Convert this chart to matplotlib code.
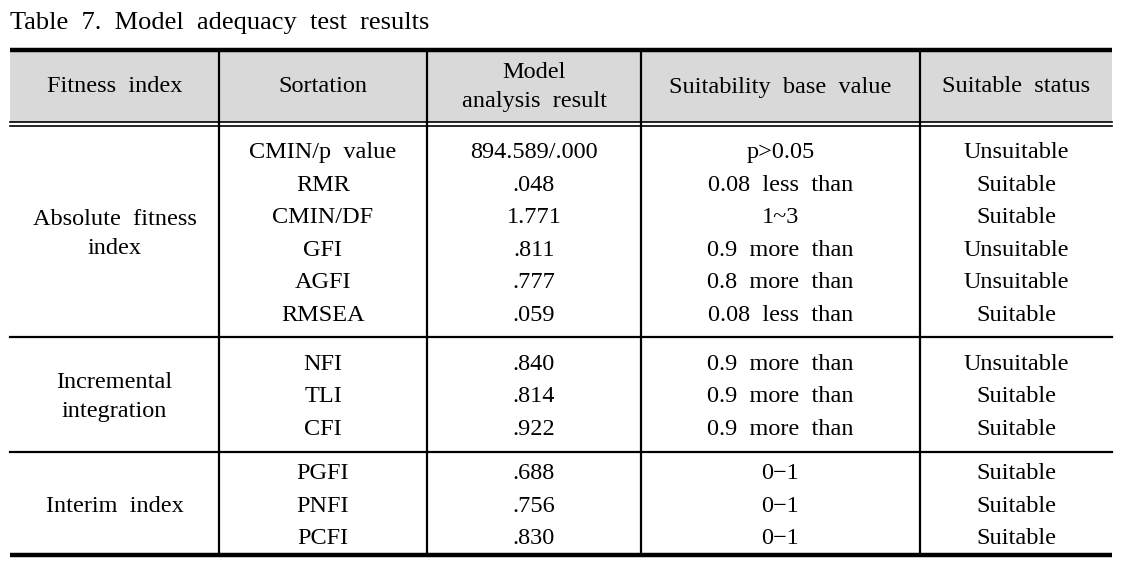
import matplotlib
matplotlib.use("Agg")
import matplotlib.pyplot as plt
from matplotlib.patches import Rectangle

title = "Table 7. Model adequacy test results"
headers = ["Fitness index", "Sortation", "Model\nanalysis result", "Suitability base value", "Suitable status"]
groups = ["Absolute fitness\nindex", "Incremental\nintegration", "Interim index"]
group_sizes = [6, 3, 3]
sortation = ["CMIN/p value", "RMR", "CMIN/DF", "GFI", "AGFI", "RMSEA",
             "NFI", "TLI", "CFI", "PGFI", "PNFI", "PCFI"]
results = ["894.589/.000", ".048", "1.771", ".811", ".777", ".059",
           ".840", ".814", ".922", ".688", ".756", ".830"]
base_values = ["p>0.05", "0.08 less than", "1~3", "0.9 more than", "0.8 more than", "0.08 less than",
               "0.9 more than", "0.9 more than", "0.9 more than", "0\u22121", "0\u22121", "0\u22121"]
status = ["Unsuitable", "Suitable", "Suitable", "Unsuitable", "Unsuitable", "Suitable",
          "Unsuitable", "Suitable", "Suitable", "Suitable", "Suitable", "Suitable"]

plt.rcParams['font.family'] = ['Liberation Serif', 'DejaVu Serif']
FS = 17.5


def wide(s, n=2):
    # reference typesetting uses wide word spacing
    return s.replace(" ", " " * n)


fig = plt.figure(figsize=(11.3, 5.65), dpi=100)
ax = fig.add_axes([0, 0, 1, 1])
ax.set_xlim(0, 1130)
ax.set_ylim(565, 0)
ax.axis('off')

L, R = 10, 1112
col_edges = [L, 219, 427, 641, 920, R]
col_centers = [(col_edges[i] + col_edges[i + 1]) / 2 for i in range(5)]
top, head_bot = 50, 122
sec_lines = [337, 452]
bottom = 555

ax.text(L, 23, wide(title, 2), fontsize=19, va='center', ha='left')

# header background
ax.add_patch(Rectangle((L, top), R - L, head_bot - top, facecolor='#d9d9d9', edgecolor='none', zorder=0))

# horizontal lines
ax.plot([L, R], [top, top], color='black', lw=3.2, solid_capstyle='butt')
ax.plot([L, R], [head_bot, head_bot], color='black', lw=1.2)
ax.plot([L, R], [head_bot + 4, head_bot + 4], color='black', lw=1.2)
for y in sec_lines:
    ax.plot([L, R], [y, y], color='black', lw=1.6)
ax.plot([L, R], [bottom, bottom], color='black', lw=3.2, solid_capstyle='butt')

# vertical lines
for x in col_edges[1:-1]:
    ax.plot([x, x], [top, bottom], color='black', lw=1.6)

# header text
for c, h in zip(col_centers, headers):
    ax.text(c, (top + head_bot) / 2 + 1, wide(h), fontsize=FS, ha='center', va='center', linespacing=1.5)

# row positions
sec_bounds = [(head_bot + 4, sec_lines[0]), (sec_lines[0], sec_lines[1]), (sec_lines[1], bottom)]
row_h = 32.5
row_y = []
for (y0, y1), n in zip(sec_bounds, group_sizes):
    mid = (y0 + y1) / 2 + 2.5
    for k in range(n):
        row_y.append(mid + (k - (n - 1) / 2) * row_h)

for g, (y0, y1), n in zip(groups, sec_bounds, group_sizes):
    ax.text(col_centers[0], (y0 + y1) / 2 + 2.5, wide(g), fontsize=FS, ha='center', va='center', linespacing=1.5)

for i in range(len(sortation)):
    y = row_y[i]
    ax.text(col_centers[1], y, wide(sortation[i]), fontsize=FS, ha='center', va='center')
    ax.text(col_centers[2], y, wide(results[i]), fontsize=FS, ha='center', va='center')
    ax.text(col_centers[3], y, wide(base_values[i]), fontsize=FS, ha='center', va='center')
    ax.text(col_centers[4], y, wide(status[i]), fontsize=FS, ha='center', va='center')

fig.savefig("out.png", dpi=100)
